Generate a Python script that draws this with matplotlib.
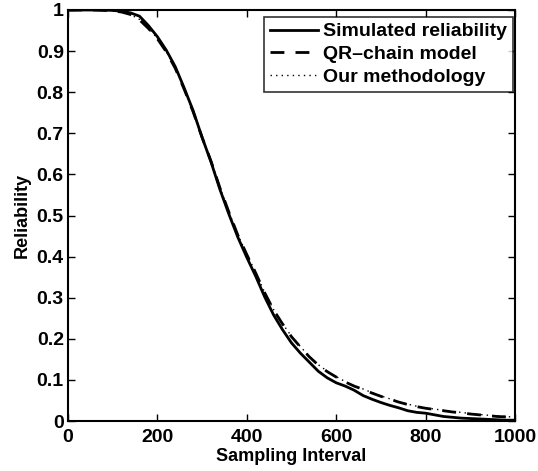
import matplotlib
matplotlib.use("Agg")
import matplotlib.pyplot as plt
import numpy as np

plt.rcParams['font.family'] = ['Liberation Sans', 'DejaVu Sans']
plt.rcParams['font.weight'] = 'bold'

x_vals = list(range(0, 1001, 20))

simulated = [1.0, 1.0, 1.0, 1.0, 1.0, 0.999, 0.997, 0.993, 0.985, 0.962,
             0.935, 0.902, 0.862, 0.81, 0.755, 0.69, 0.63, 0.563, 0.503, 0.447,
             0.398, 0.352, 0.302, 0.258, 0.222, 0.19, 0.165, 0.143, 0.121, 0.105,
             0.093, 0.085, 0.075, 0.062, 0.053, 0.045, 0.038, 0.032, 0.025, 0.021,
             0.019, 0.015, 0.011, 0.009, 0.007, 0.006, 0.005, 0.004, 0.003, 0.002, 0.002]

qr_chain = [1.0, 1.0, 1.0, 1.0, 0.999, 0.998, 0.995, 0.989, 0.976, 0.955,
            0.93, 0.898, 0.858, 0.807, 0.752, 0.69, 0.632, 0.567, 0.508, 0.452,
            0.405, 0.36, 0.312, 0.27, 0.236, 0.205, 0.18, 0.156, 0.136, 0.12,
            0.107, 0.095, 0.085, 0.077, 0.068, 0.06, 0.053, 0.046, 0.04, 0.035,
            0.031, 0.028, 0.025, 0.022, 0.02, 0.017, 0.015, 0.013, 0.011, 0.01, 0.008]

our_method = [1.0, 1.0, 1.0, 1.0, 0.999, 0.998, 0.995, 0.989, 0.977, 0.956,
              0.931, 0.899, 0.859, 0.808, 0.753, 0.691, 0.633, 0.568, 0.509, 0.453,
              0.406, 0.361, 0.313, 0.271, 0.237, 0.206, 0.181, 0.157, 0.137, 0.121,
              0.108, 0.096, 0.086, 0.078, 0.069, 0.061, 0.054, 0.047, 0.041, 0.036,
              0.032, 0.029, 0.026, 0.023, 0.021, 0.018, 0.016, 0.014, 0.012, 0.011, 0.009]

x_ticks = [0, 200, 400, 600, 800, 1000]
y_ticks = [0, 0.1, 0.2, 0.3, 0.4, 0.5, 0.6, 0.7, 0.8, 0.9, 1]
y_tick_labels = ['0', '0.1', '0.2', '0.3', '0.4', '0.5', '0.6', '0.7', '0.8', '0.9', '1']

fig = plt.figure(figsize=(5.38, 4.71), dpi=100)
ax = fig.add_axes([68/538, 1 - 421/471, (515-68)/538, (421-10)/471])

ax.plot(x_vals, simulated, color='black', linestyle='-', linewidth=2.0, label='Simulated reliability')
ax.plot(x_vals, qr_chain, color='black', linestyle=(0, (5, 4)), linewidth=2.0, label='QR\u2013chain model')
ax.plot(x_vals, our_method, color='black', linestyle=(0, (1, 3)), linewidth=1.0, label='Our methodology')

ax.set_xlim(0, 1000)
ax.set_ylim(0, 1)
ax.set_xticks(x_ticks)
ax.set_xticklabels([str(t) for t in x_ticks])
ax.set_yticks(y_ticks)
ax.set_yticklabels(y_tick_labels)
ax.tick_params(direction='in', top=True, right=True, length=5, width=1.0,
               labelsize=14, pad=3)
ax.tick_params(axis='x', pad=6)
for lab in ax.get_xticklabels() + ax.get_yticklabels():
    lab.set_fontweight('bold')
for sp in ax.spines.values():
    sp.set_linewidth(1.5)

ax.set_xlabel('Sampling Interval', fontsize=13, fontweight='bold', labelpad=1)
ax.set_ylabel('Reliability', fontsize=13, fontweight='bold', labelpad=4)

leg = ax.legend(loc='upper right', bbox_to_anchor=(1 - 2/447, 1 - 7/411),
                fontsize=14, frameon=True, fancybox=False,
                edgecolor='black', handlelength=2.5, handletextpad=0.25,
                borderpad=0.3, labelspacing=0.26, borderaxespad=0.0)
leg.get_frame().set_linewidth(1.2)
for t in leg.get_texts():
    t.set_fontweight('bold')

fig.savefig('out.png', dpi=100)
